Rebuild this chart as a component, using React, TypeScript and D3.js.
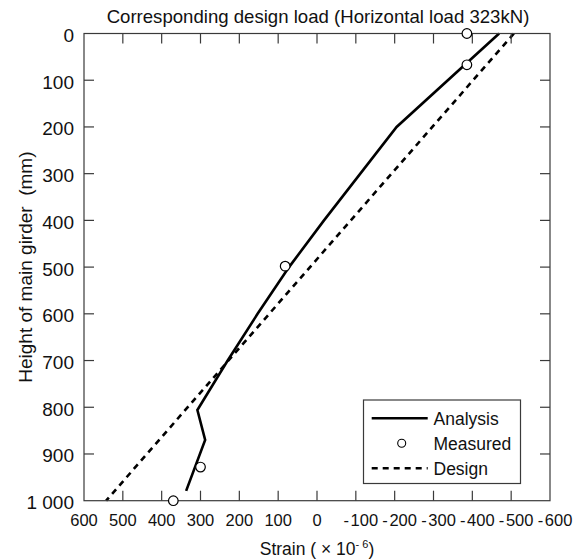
import React from "react";
import * as d3 from "d3";

// ---- data ----
const xTicks = [600, 500, 400, 300, 200, 100, 0, -100, -200, -300, -400, -500, -600];
const xTickLabels = ["600", "500", "400", "300", "200", "100", "0", "-100", "-200", "-300", "-400", "-500", "-600"];
const yTicks = [0, 100, 200, 300, 400, 500, 600, 700, 800, 900, 1000];
const yTickLabels = ["0", "100", "200", "300", "400", "500", "600", "700", "800", "900", "1 000"];

const analysisHeight = [0, 200, 400, 500, 600, 700, 806, 870, 979];
const analysisStrain = [-469, -205, -18, 72, 153, 230, 308, 288, 337];

const measuredHeight = [0, 67, 498, 928, 1000];
const measuredStrain = [-386, -386, 82, 300, 370];

const designHeight = [0, 1000];
const designStrain = [-507, 543];

const legendLabels = ["Analysis", "Measured", "Design"];

const W = 579;
const H = 559;
const FONT = "'Liberation Sans', Arial, Helvetica, sans-serif";

export default function App() {
  const x = d3.scaleLinear().domain([600, -600]).range([84, 550]);
  const y = d3.scaleLinear().domain([0, 1000]).range([33.5, 500.7]);
  const [x0, x1] = x.range();
  const [y0, y1] = y.range();

  const line = d3
    .line<[number, number]>()
    .x((d) => x(d[0]))
    .y((d) => y(d[1]));

  const analysis = analysisHeight.map((h, i) => [analysisStrain[i], h] as [number, number]);
  const design = designHeight.map((h, i) => [designStrain[i], h] as [number, number]);
  const measured = measuredHeight.map((h, i) => [measuredStrain[i], h] as [number, number]);

  const frame = "#3a3a3a";
  const tickLen = 10;

  const lg = { x: 363.5, y: 400, w: 157, h: 83.5 };
  const rowY = [418.3, 443.3, 468.3];

  return (
    <div style={{ position: "fixed", left: 0, top: 0, width: W, height: H, background: "#fff" }}>
      <svg width={W} height={H} style={{ display: "block", fontFamily: FONT }}>
        <rect x={0} y={0} width={W} height={H} fill="#fff" />
        {/* title */}
        <text x={(x0 + x1) / 2 + 1} y={22.5} textAnchor="middle" fontSize={18.6} fill="#111">
          Corresponding design load (Horizontal load 323kN)
        </text>

        {/* data lines */}
        <path d={line(design) || ""} fill="none" stroke="#000" strokeWidth={2.6} strokeDasharray="6,5" />
        <path d={line(analysis) || ""} fill="none" stroke="#000" strokeWidth={2.6} strokeLinejoin="miter" />

        {/* frame */}
        <rect x={x0} y={y0} width={x1 - x0} height={y1 - y0} fill="none" stroke={frame} strokeWidth={1.2} />
        {/* x ticks (top and bottom, inward) */}
        {xTicks.map((t, i) =>
          i === 0 || i === xTicks.length - 1 ? null : (
            <g key={"xt" + t}>
              <line x1={x(t)} x2={x(t)} y1={y0} y2={y0 + tickLen} stroke={frame} strokeWidth={1.2} />
              <line x1={x(t)} x2={x(t)} y1={y1} y2={y1 - tickLen} stroke={frame} strokeWidth={1.2} />
            </g>
          )
        )}
        {xTicks.map((t, i) => {
          const lab = xTickLabels[i];
          const neg = lab.startsWith("-");
          return (
            <text key={"xl" + t} x={x(t) + (neg ? 5 : 0)} y={526} textAnchor="middle" fontSize={16.5} fill="#111">
              {neg ? (
                <>
                  {"-"}
                  <tspan dx={1.6}>{lab.slice(1)}</tspan>
                </>
              ) : (
                lab
              )}
            </text>
          );
        })}
        {/* y ticks */}
        {yTicks.map((t, i) =>
          i === 0 || i === yTicks.length - 1 ? null : (
            <g key={"yt" + t}>
              <line x1={x0} x2={x0 + tickLen} y1={y(t)} y2={y(t)} stroke={frame} strokeWidth={1.2} />
              <line x1={x1} x2={x1 - tickLen} y1={y(t)} y2={y(t)} stroke={frame} strokeWidth={1.2} />
            </g>
          )
        )}
        {yTicks.map((t, i) => (
          <text key={"yl" + t} x={74} y={y(t) + 8.5} textAnchor="end" fontSize={19} fill="#111" style={{ whiteSpace: "pre" }}>
            {yTickLabels[i]}
          </text>
        ))}

        {/* measured points */}
        {measured.map((d, i) => (
          <circle key={"m" + i} cx={x(d[0])} cy={y(d[1])} r={4.8} fill="#fff" stroke="#000" strokeWidth={1.2} />
        ))}

        {/* axis titles */}
        <text
          transform={`translate(25,${(y0 + y1) / 2}) rotate(-90)`}
          textAnchor="middle"
          dominantBaseline="central"
          fontSize={19}
          fill="#111"
          style={{ whiteSpace: "pre" }}
        >
          {"Height of main girder  (mm)"}
        </text>
        <text x={(x0 + x1) / 2} y={555} textAnchor="middle" fontSize={17.5} fill="#111" style={{ whiteSpace: "pre" }}>
          {"Strain ( × 10"}
          <tspan fontSize={11} dy={-7}>{"- 6"}</tspan>
          <tspan dy={7}>{")"}</tspan>
        </text>

        {/* legend */}
        <rect x={lg.x} y={lg.y} width={lg.w} height={lg.h} fill="#fff" stroke={frame} strokeWidth={1.2} />
        <line x1={371.7} x2={427.7} y1={rowY[0]} y2={rowY[0]} stroke="#000" strokeWidth={2.6} />
        <circle cx={401.7} cy={rowY[1]} r={4} fill="#fff" stroke="#000" strokeWidth={1.1} />
        <line x1={371.7} x2={427.7} y1={rowY[2]} y2={rowY[2]} stroke="#000" strokeWidth={2.6} strokeDasharray="6,5" />
        {legendLabels.map((l, i) => (
          <text key={l} x={433.5} y={rowY[i] + 6.3} fontSize={17.5} fill="#111">
            {l}
          </text>
        ))}
      </svg>
    </div>
  );
}
